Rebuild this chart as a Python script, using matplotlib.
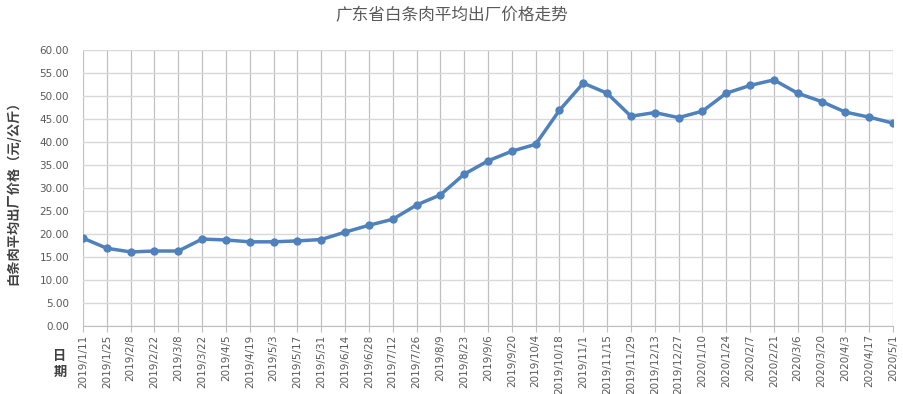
import matplotlib.pyplot as plt
import numpy as np

plt.rcParams['font.family'] = ['Noto Sans CJK SC', 'DejaVu Sans']

dates = ["2019/1/11", "2019/1/25", "2019/2/8", "2019/2/22", "2019/3/8", "2019/3/22",
         "2019/4/5", "2019/4/19", "2019/5/3", "2019/5/17", "2019/5/31", "2019/6/14",
         "2019/6/28", "2019/7/12", "2019/7/26", "2019/8/9", "2019/8/23", "2019/9/6",
         "2019/9/20", "2019/10/4", "2019/10/18", "2019/11/1", "2019/11/15", "2019/11/29",
         "2019/12/13", "2019/12/27", "2020/1/10", "2020/1/24", "2020/2/7", "2020/2/21",
         "2020/3/6", "2020/3/20", "2020/4/3", "2020/4/17", "2020/5/1"]
prices = [19.1, 16.9, 16.1, 16.3, 16.3, 18.9, 18.7, 18.3, 18.3, 18.5, 18.8, 20.4,
          21.9, 23.2, 26.3, 28.5, 33.0, 35.9, 38.0, 39.5, 46.9, 52.8, 50.6, 45.6,
          46.4, 45.3, 46.7, 50.6, 52.3, 53.5, 50.6, 48.8, 46.5, 45.4, 44.1]
yticks = np.arange(0, 60.1, 5)

fig = plt.figure(figsize=(9.04, 3.94), dpi=100)
ax = fig.add_axes([83/904, 1-326/394, (893-83)/904, (326-50)/394])

x = np.arange(len(dates))
ax.plot(x, prices, color='#4f81bd', linewidth=2.5, marker='o', markersize=5, zorder=3)

ax.set_xlim(0, len(dates)-1)
ax.set_ylim(0, 60)
ax.set_yticks(yticks)
ax.set_yticklabels([f"{v:.2f}" for v in yticks], family='DejaVu Sans', fontsize=7.5, color='#595959')
ax.set_xticks(x)
ax.set_xticklabels(dates, rotation=90, family='DejaVu Sans', fontsize=7.5, color='#595959')
ax.tick_params(axis='y', length=0, pad=10)
ax.tick_params(axis='x', length=4, color='#bfbfbf', pad=2)

ax.grid(axis='y', color='#d9d9d9', linewidth=1)
ax.grid(axis='x', color='#c0c0c0', linewidth=0.9)
ax.set_axisbelow(True)
for s in ['top', 'right', 'left']:
    ax.spines[s].set_visible(False)
ax.spines['bottom'].set_color('#bfbfbf')

fig.text(0.5, 1-16/394, "广东省白条肉平均出厂价格走势", ha='center', va='center',
         fontsize=12, color='#595959')
fig.text(13/904, 1-190/394, "白条肉平均出厂价格（元/公斤）", rotation=90, ha='center', va='center',
         fontsize=9.5, fontweight='bold', color='#404040')
fig.text(60/904, 1-364/394, "日\n期", ha='center', va='center', fontsize=9.5,
         fontweight='bold', color='#404040', linespacing=1.1)

fig.savefig("out.png", dpi=100)
